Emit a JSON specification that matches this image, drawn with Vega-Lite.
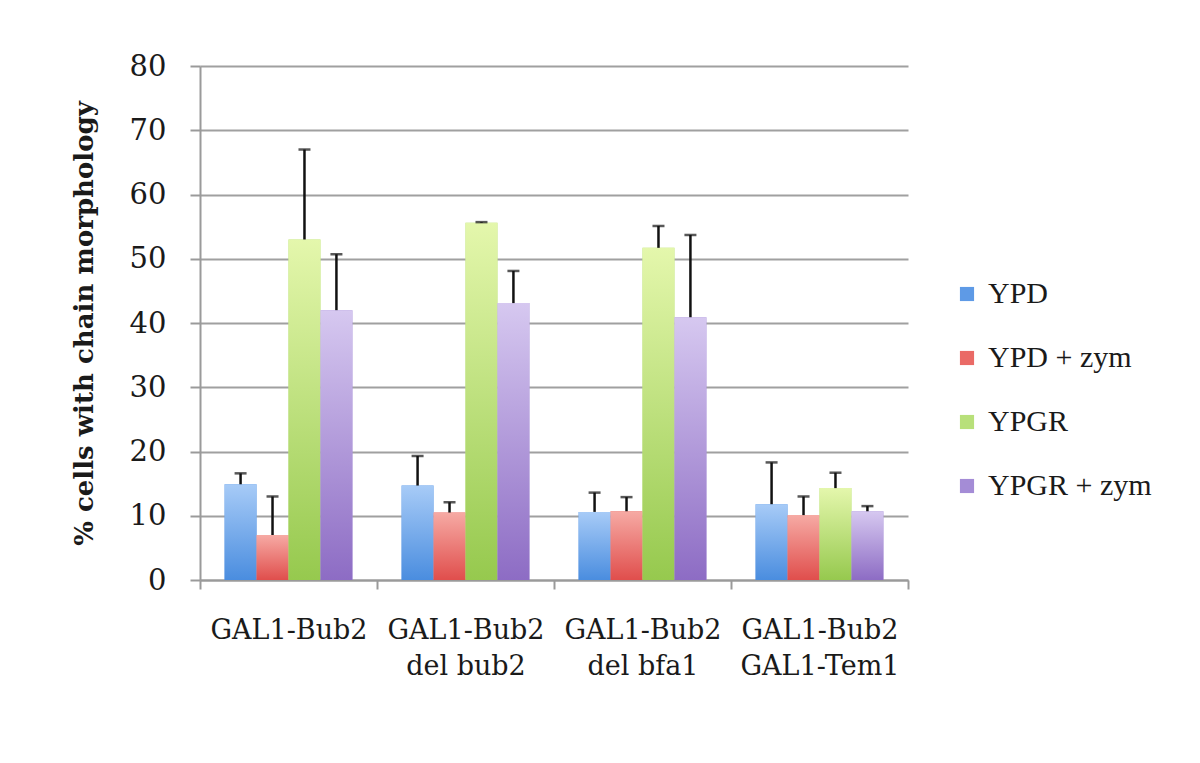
{
  "$schema": "https://vega.github.io/schema/vega-lite/v6.json",
  "autosize": "none",
  "width": 708,
  "height": 514,
  "padding": {"left": 200, "top": 66, "right": 292, "bottom": 183},
  "background": "white",
  "config": {
    "view": {"stroke": null},
    "font": "DejaVu Serif",
    "axis": {"labelFont": "DejaVu Serif", "titleFont": "DejaVu Serif"},
    "legend": {"labelFont": "DejaVu Serif"}
  },
  "data": {
    "values": [
      {"group": "GAL1-Bub2", "series": "YPD", "value": 14.9, "upper": 16.6},
      {"group": "GAL1-Bub2", "series": "YPD + zym", "value": 7.0, "upper": 13.0},
      {"group": "GAL1-Bub2", "series": "YPGR", "value": 53.0, "upper": 67.0},
      {"group": "GAL1-Bub2", "series": "YPGR + zym", "value": 42.0, "upper": 50.7},
      {"group": "GAL1-Bub2|del bub2", "series": "YPD", "value": 14.7, "upper": 19.3},
      {"group": "GAL1-Bub2|del bub2", "series": "YPD + zym", "value": 10.5, "upper": 12.1},
      {"group": "GAL1-Bub2|del bub2", "series": "YPGR", "value": 55.6, "upper": 55.7},
      {"group": "GAL1-Bub2|del bub2", "series": "YPGR + zym", "value": 43.1, "upper": 48.1},
      {"group": "GAL1-Bub2|del bfa1", "series": "YPD", "value": 10.6, "upper": 13.6},
      {"group": "GAL1-Bub2|del bfa1", "series": "YPD + zym", "value": 10.7, "upper": 12.9},
      {"group": "GAL1-Bub2|del bfa1", "series": "YPGR", "value": 51.7, "upper": 55.1},
      {"group": "GAL1-Bub2|del bfa1", "series": "YPGR + zym", "value": 40.9, "upper": 53.7},
      {"group": "GAL1-Bub2|GAL1-Tem1", "series": "YPD", "value": 11.8, "upper": 18.3},
      {"group": "GAL1-Bub2|GAL1-Tem1", "series": "YPD + zym", "value": 10.1, "upper": 13.0},
      {"group": "GAL1-Bub2|GAL1-Tem1", "series": "YPGR", "value": 14.3, "upper": 16.7},
      {"group": "GAL1-Bub2|GAL1-Tem1", "series": "YPGR + zym", "value": 10.7, "upper": 11.5}
    ]
  },
  "encoding": {
    "x": {
      "field": "group",
      "type": "nominal",
      "sort": ["GAL1-Bub2", "GAL1-Bub2|del bub2", "GAL1-Bub2|del bfa1", "GAL1-Bub2|GAL1-Tem1"],
      "scale": {"paddingInner": 0, "paddingOuter": 0},
      "axis": {
        "title": null,
        "labelAngle": 0,
        "labelExpr": "split(datum.label, '|')",
        "labelFontSize": 27,
        "labelColor": "#1a1a1a",
        "labelPadding": 28,
        "labelLineHeight": 36,
        "labelBaseline": "top",
        "labelLimit": 300,
        "tickBand": "extent",
        "tickSize": 9,
        "tickColor": "#9a9a9a",
        "tickWidth": 2,
        "domainColor": "#9a9a9a",
        "domainWidth": 2,
        "grid": false
      }
    },
    "xOffset": {
      "field": "series",
      "type": "nominal",
      "sort": ["YPD", "YPD + zym", "YPGR", "YPGR + zym"],
      "scale": {"paddingInner": 0, "paddingOuter": 0.77}
    },
    "y": {
      "field": "value",
      "type": "quantitative",
      "scale": {"domain": [0, 80]},
      "axis": {
        "title": "% cells with chain morphology",
        "titleFontSize": 26,
        "titleFontWeight": "bold",
        "titleColor": "#1a1a1a",
        "titlePadding": 32,
        "values": [0, 10, 20, 30, 40, 50, 60, 70, 80],
        "labelFontSize": 29,
        "labelColor": "#1a1a1a",
        "labelPadding": 24,
        "tickSize": 10,
        "tickColor": "#9a9a9a",
        "tickWidth": 2,
        "domainColor": "#9a9a9a",
        "domainWidth": 2,
        "grid": true,
        "gridColor": "#a0a0a0",
        "gridWidth": 2
      }
    }
  },
  "layer": [
    {
      "mark": {"type": "bar"},
      "encoding": {
        "color": {
          "field": "series",
          "type": "nominal",
          "sort": ["YPD", "YPD + zym", "YPGR", "YPGR + zym"],
          "scale": {"range": ["#5e9ae6", "#ea6a66", "#b8e07a", "#a48cd6"]},
          "legend": {
            "title": null,
            "orient": "none",
            "legendX": 752,
            "legendY": 213,
            "symbolType": "square",
            "symbolSize": 200,
            "symbolStrokeWidth": 0,
            "labelFont": "Liberation Serif",
            "labelFontSize": 30,
            "labelColor": "#1a1a1a",
            "labelLimit": 400,
            "labelOffset": 6,
            "rowPadding": 34
          }
        }
      }
    },
    {
      "mark": {"type": "bar"},
      "encoding": {
        "color": {
          "condition": [
            {"test": "datum.series === 'YPD'", "value": {"gradient": "linear", "x1": 0, "y1": 0, "x2": 0, "y2": 1, "stops": [{"offset": 0, "color": "#a7cbf7"}, {"offset": 1, "color": "#4a8ddf"}]}},
            {"test": "datum.series === 'YPD + zym'", "value": {"gradient": "linear", "x1": 0, "y1": 0, "x2": 0, "y2": 1, "stops": [{"offset": 0, "color": "#f6aaa4"}, {"offset": 1, "color": "#e04e4c"}]}},
            {"test": "datum.series === 'YPGR'", "value": {"gradient": "linear", "x1": 0, "y1": 0, "x2": 0, "y2": 1, "stops": [{"offset": 0, "color": "#e4f7ac"}, {"offset": 1, "color": "#96c94e"}]}}
          ],
          "value": {"gradient": "linear", "x1": 0, "y1": 0, "x2": 0, "y2": 1, "stops": [{"offset": 0, "color": "#d6c8f0"}, {"offset": 1, "color": "#8d6cc4"}]}
        }
      }
    },
    {
      "mark": {"type": "rule", "color": "#111111", "strokeWidth": 2.5},
      "encoding": {
        "y2": {"field": "upper"}
      }
    },
    {
      "mark": {"type": "tick", "color": "#111111", "thickness": 2.5, "size": 12},
      "encoding": {
        "y": {"field": "upper", "type": "quantitative"}
      }
    }
  ]
}
